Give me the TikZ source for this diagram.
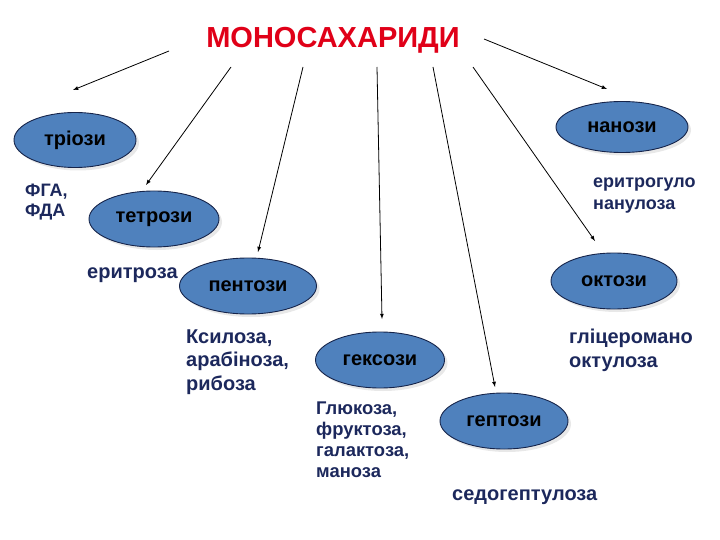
\documentclass[tikz,border=0pt]{standalone}
\usepackage{fontspec}
\setmainfont{Liberation Sans}
\usepackage{xcolor}
\usetikzlibrary{arrows, shapes.geometric, shadows}
\definecolor{SugarBlue}{RGB}{79,129,189}
\definecolor{EdgeNavy}{RGB}{22,36,74}
\definecolor{NoteNavy}{RGB}{28,40,92}
\definecolor{TitleRed}{RGB}{224,0,24}
\tikzset{next/.style={->, >=latex, line width=.8pt}}
\tikzset{sugar/.style={ellipse, draw=EdgeNavy, fill=SugarBlue, line width=.9pt, inner sep=0pt,
    drop shadow={opacity=.18, shadow xshift=3pt, shadow yshift=-3pt},
    font=\fontsize{20}{24}\selectfont\bfseries}}
\tikzset{note/.style={anchor=base west, align=left, inner sep=0pt, text=NoteNavy}}

\begin{document}
\begin{tikzpicture}[x=1pt, y=-1pt]
  \useasboundingbox (0,0) rectangle (720,540);

  % --- title ---
  \node[text=TitleRed, font=\fontsize{29}{34}\selectfont\bfseries] (title) at (333,40) {МОНОСАХАРИДИ};

  % --- classes ---
  \node[sugar, minimum width=122, minimum height=55] (trioses) at (75,140) {тріози};
  \node[sugar, minimum width=130, minimum height=56] (tetroses) at (154,219) {тетрози};
  \node[sugar, minimum width=137, minimum height=56] (pentoses) at (248,286) {пентози};
  \node[sugar, minimum width=129, minimum height=56] (hexoses) at (380,360) {гексози};
  \node[sugar, minimum width=128, minimum height=56] (heptoses) at (504,421) {гептози};
  \node[sugar, minimum width=126, minimum height=56] (octoses) at (614,281) {октози};
  \node[sugar, minimum width=132, minimum height=51] (nonoses) at (622,127) {нанози};

  % --- examples ---
  \node[note, font=\fontsize{18}{20}\selectfont\bfseries] (triEx) at (25,216) {ФГА,\\ФДА};
  \node[note, font=\fontsize{20}{22}\selectfont\bfseries] (tetrEx) at (87,278) {еритроза};
  \node[note, font=\fontsize{20}{23.5}\selectfont\bfseries] (pentEx) at (186,390) {Ксилоза,\\арабіноза,\\рибоза};
  \node[note, font=\fontsize{18.4}{20.7}\selectfont\bfseries] (hexEx) at (316,477) {Глюкоза,\\фруктоза,\\галактоза,\\маноза};
  \node[note, font=\fontsize{20}{22}\selectfont\bfseries] (heptEx) at (452,500) {седогептулоза};
  \node[note, font=\fontsize{20}{24}\selectfont\bfseries] (octEx) at (569,367) {гліцеромано\\октулоза};
  \node[note, font=\fontsize{18}{22}\selectfont\bfseries] (nonEx) at (593,210) {еритрогуло\\нанулоза};

  % --- arrows from the title ---
  \coordinate (s1) at (169,51);  \coordinate (e1) at (73,90);
  \coordinate (s2) at (231,67);  \coordinate (e2) at (146,185);
  \coordinate (s3) at (303,67);  \coordinate (e3) at (258,252);
  \coordinate (s4) at (377,67);  \coordinate (e4) at (382,319);
  \coordinate (s5) at (433,67);  \coordinate (e5) at (495,387);
  \coordinate (s6) at (473,67);  \coordinate (e6) at (595,241);
  \coordinate (s7) at (484,39);  \coordinate (e7) at (607,89);

  \draw[next] (s1) -- (e1);
  \draw[next] (s2) -- (e2);
  \draw[next] (s3) -- (e3);
  \draw[next] (s4) -- (e4);
  \draw[next] (s5) -- (e5);
  \draw[next] (s6) -- (e6);
  \draw[next] (s7) -- (e7);
\end{tikzpicture}
\end{document}
